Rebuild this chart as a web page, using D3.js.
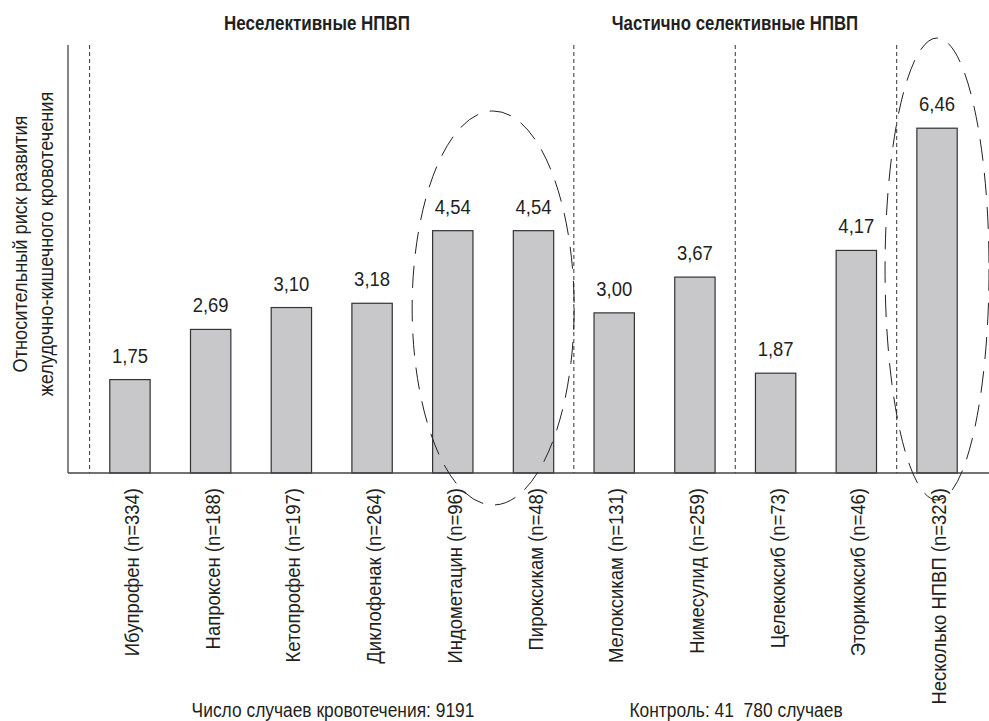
<!DOCTYPE html>
<meta charset="utf-8">
<head>
    <title>Относительный риск ЖКК при приёме НПВП</title>
    <script src="https://d3js.org/d3.v7.min.js"></script>
    <style>
        body { margin: 0; background: #fff; }
        svg { display: block; }
        text { font-family: 'Liberation Sans', Arial, sans-serif; fill: #231f20; }
        .bar { fill: #c8c8ca; stroke: #333; stroke-width: 1.2; }
        .axis-line { stroke: #444; stroke-width: 1.3; }
        .divider { stroke: #333; stroke-width: 1; stroke-dasharray: 4 3; }
        .oval { fill: none; stroke: #222; stroke-width: 1; stroke-dasharray: 22 12; }
        text.value { font-size: 21px; }
        text.cat { font-size: 21px; }
        text.group { font-size: 21px; font-weight: 700; }
        text.ylabel { font-size: 20px; }
        text.note { font-size: 20px; white-space: pre; }
    </style>
</head>
<body>
<svg width="989" height="721"></svg>
<script>
    const drugs = ['Ибупрофен', 'Напроксен', 'Кетопрофен', 'Диклофенак', 'Индометацин', 'Пироксикам',
        'Мелоксикам', 'Нимесулид', 'Целекоксиб', 'Эторикоксиб', 'Несколько НПВП'];
    const cases = [334, 188, 197, 264, 96, 48, 131, 259, 73, 46, 323];
    const risk = [1.75, 2.69, 3.10, 3.18, 4.54, 4.54, 3.00, 3.67, 1.87, 4.17, 6.46];
    // where the dashed separators go (before these drugs)
    const dividersBefore = ['Ибупрофен', 'Мелоксикам', 'Целекоксиб', 'Несколько НПВП'];
    // dashed ovals: [first drug, last drug]
    const ovals = [['Индометацин', 'Пироксикам'], ['Несколько НПВП', 'Несколько НПВП']];

    const data = drugs.map((d, i) => ({drug: d, n: cases[i], value: risk[i]}));

    const svg = d3.select('svg');
    const x0 = 68, y0 = 473, yTop = 46;
    const narrow = 0.88; // the original uses a condensed face

    const xScale = d3.scaleBand()
        .domain(drugs)
        .range([89.6, 977.4])
        .paddingInner(0.5)
        .paddingOuter(0.25);
    const yScale = d3.scaleLinear()
        .domain([0, 8])
        .range([y0, yTop]);
    const gap = (xScale.step() - xScale.bandwidth()) / 2;
    const cx = (d) => xScale(d) + xScale.bandwidth() / 2;

    // dashed separators
    svg.selectAll('.divider')
        .data(dividersBefore)
        .enter()
        .append('line')
        .attr('class', 'divider')
        .attr('x1', (d) => xScale(d) - gap)
        .attr('x2', (d) => xScale(d) - gap)
        .attr('y1', yTop - 1)
        .attr('y2', y0);

    svg.selectAll('.bar')
        .data(data)
        .enter()
        .append('rect')
        .attr('class', 'bar')
        .attr('x', (d) => xScale(d.drug))
        .attr('y', (d) => yScale(d.value))
        .attr('width', xScale.bandwidth())
        .attr('height', (d) => y0 - yScale(d.value));

    svg.selectAll('.value')
        .data(data)
        .enter()
        .append('text')
        .attr('class', 'value')
        .attr('transform', (d) => `translate(${cx(d.drug)}, ${yScale(d.value) - 17}) scale(${narrow}, 1)`)
        .attr('text-anchor', 'middle')
        .text((d) => d.value.toFixed(2).replace('.', ','));

    // axes
    svg.append('line').attr('class', 'axis-line')
        .attr('x1', x0).attr('x2', x0).attr('y1', yTop - 1).attr('y2', y0);
    svg.append('line').attr('class', 'axis-line')
        .attr('x1', x0).attr('x2', 989).attr('y1', y0).attr('y2', y0);

    svg.selectAll('.cat')
        .data(data)
        .enter()
        .append('text')
        .attr('class', 'cat')
        .attr('transform', (d) => `translate(${cx(d.drug) + 9}, ${y0 + 15}) rotate(-90) scale(${narrow}, 1)`)
        .attr('text-anchor', 'end')
        .text((d) => `${d.drug} (n=${d.n})`);

    // ovals
    svg.selectAll('.oval')
        .data(ovals)
        .enter()
        .append('ellipse')
        .attr('class', 'oval')
        .attr('cx', (d) => (xScale(d[0]) + xScale(d[1]) + xScale.bandwidth()) / 2)
        .attr('cy', (d) => d[0] === d[1] ? 269 : 308)
        .attr('rx', (d) => d[0] === d[1] ? 52 : 81)
        .attr('ry', (d) => d[0] === d[1] ? 231 : 197);

    // group titles
    svg.append('text').attr('class', 'group')
        .attr('transform', `translate(317, 30) scale(0.81, 1)`)
        .attr('text-anchor', 'middle')
        .text('Неселективные НПВП');
    svg.append('text').attr('class', 'group')
        .attr('transform', `translate(735, 30) scale(0.8, 1)`)
        .attr('text-anchor', 'middle')
        .text('Частично селективные НПВП');

    // y label, two lines
    svg.append('text').attr('class', 'ylabel')
        .attr('transform', `translate(27, 244) rotate(-90) scale(0.91, 1)`)
        .attr('text-anchor', 'middle')
        .text('Относительный риск развития');
    svg.append('text').attr('class', 'ylabel')
        .attr('transform', `translate(53, 244) rotate(-90) scale(0.91, 1)`)
        .attr('text-anchor', 'middle')
        .text('желудочно-кишечного кровотечения');

    svg.append('text').attr('class', 'note')
        .attr('transform', `translate(333, 717) scale(0.87, 1)`)
        .attr('text-anchor', 'middle')
        .text('Число случаев кровотечения: 9191');
    svg.append('text').attr('class', 'note')
        .attr('transform', `translate(736, 717) scale(0.87, 1)`)
        .attr('text-anchor', 'middle')
        .text('Контроль: 41  780 случаев');
</script>
</body>
